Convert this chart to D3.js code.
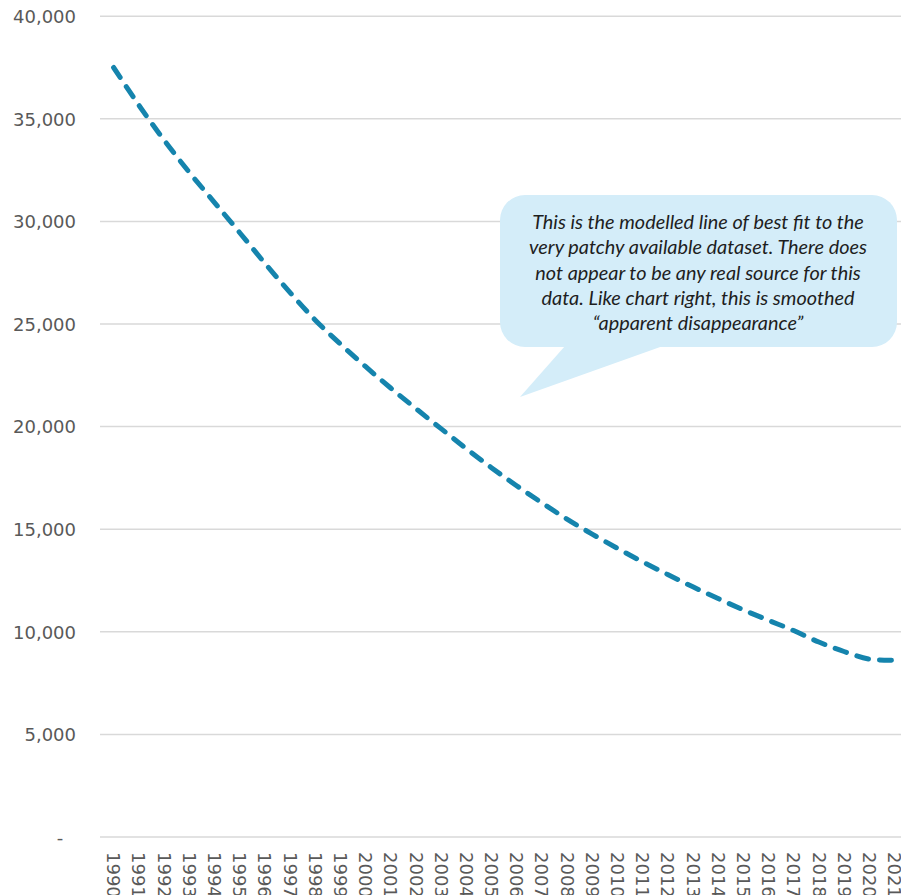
<!DOCTYPE html>
<html>
<head>
<meta charset="utf-8">
<script src="https://cdn.jsdelivr.net/npm/d3@7"></script>
<style>
  html, body { margin: 0; padding: 0; background: #fff; overflow: hidden; }
  svg { display: block; }
</style>
</head>
<body>
<svg id="chart" width="901" height="895"></svg>
<script>
// ---- data ----
const years = ["1990","1991","1992","1993","1994","1995","1996","1997","1998","1999",
  "2000","2001","2002","2003","2004","2005","2006","2007","2008","2009",
  "2010","2011","2012","2013","2014","2015","2016","2017","2018","2019","2020","2021"];
const values = [37500, 35670, 33970, 32400, 30930, 29460, 27970, 26540, 25200, 24030,
  22930, 21880, 20880, 19900, 18930, 18000, 17120, 16290, 15490, 14760,
  14070, 13410, 12790, 12190, 11620, 11070, 10560, 10060, 9500, 9040, 8670, 8620];
const yTicks = [0, 5000, 10000, 15000, 20000, 25000, 30000, 35000, 40000];
const calloutLines = [
  "This is the modelled line of best fit to the",
  "very patchy available dataset. There does",
  "not appear to be any real source for this",
  "data. Like chart right, this is smoothed",
  "\u201Capparent disappearance\u201D"
];

// ---- layout ----
const svg = d3.select("#chart");
const plotLeft = 101, plotRight = 907, plotTop = 16.2, plotBottom = 837;

const x = d3.scaleBand().domain(years).range([plotLeft, plotRight]);
const y = d3.scaleLinear().domain([0, 40000]).range([plotBottom, plotTop]);

const fmt = d3.format(",");
const font = "'DejaVu Sans', sans-serif";

// gridlines
svg.append("g").selectAll("line").data(yTicks).join("line")
  .attr("x1", 100).attr("x2", 901)
  .attr("y1", d => y(d)).attr("y2", d => y(d))
  .attr("stroke", "#d9d9d9").attr("stroke-width", 1.5);

// y axis labels
const yAxis = svg.append("g").attr("transform", "translate(76,0)")
  .call(d3.axisLeft(y).tickValues(yTicks).tickSize(0).tickPadding(0)
    .tickFormat(d => d === 0 ? "-" : fmt(d)));
yAxis.select(".domain").remove();
yAxis.selectAll("text")
  .attr("font-family", font).attr("font-size", 18).attr("fill", "#595959")
  .attr("dy", "0.35em");
yAxis.selectAll("text").filter(d => d === 0)
  .attr("text-anchor", "middle").attr("x", -16);

// x axis labels (rotated)
const xAxis = svg.append("g").attr("transform", `translate(0,${plotBottom})`)
  .call(d3.axisBottom(x).tickSize(0).tickPadding(0));
xAxis.select(".domain").remove();
xAxis.selectAll(".tick text")
  .attr("font-family", font).attr("font-size", 18).attr("fill", "#595959")
  .attr("text-anchor", "start")
  .attr("transform", "rotate(90)")
  .attr("x", 15).attr("y", 0).attr("dy", "0.35em");

// line
const line = d3.line()
  .x((d, i) => x(years[i]) + x.bandwidth() / 2)
  .y(d => y(d))
  .curve(d3.curveCatmullRom.alpha(0.5));

svg.append("path").datum(values)
  .attr("d", line)
  .attr("fill", "none")
  .attr("stroke", "#1584AD")
  .attr("stroke-width", 5)
  .attr("stroke-linecap", "round")
  .attr("stroke-dasharray", "12 11");

// callout
const call = svg.append("g");
call.append("rect")
  .attr("x", 500).attr("y", 195).attr("width", 397).attr("height", 152)
  .attr("rx", 25).attr("ry", 25).attr("fill", "#D4EDF9");
call.append("path")
  .attr("d", "M565,346 L663,346 L520,397 Z").attr("fill", "#D4EDF9");

const tx = call.append("text")
  .attr("font-family", "Lato, 'Open Sans', sans-serif").attr("font-style", "italic")
  .attr("font-size", 17).attr("fill", "#1e1e1e")
  .attr("text-anchor", "middle");
tx.selectAll("tspan").data(calloutLines).join("tspan")
  .attr("x", 698).attr("y", (d, i) => 222 + i * 25.3).attr("dy", "0.35em")
  .text(d => d);
// fit first line to target width
const first = tx.select("tspan").node();
const w = first.getComputedTextLength();
tx.attr("font-size", 17 * 332 / w);
</script>
</body>
</html>
